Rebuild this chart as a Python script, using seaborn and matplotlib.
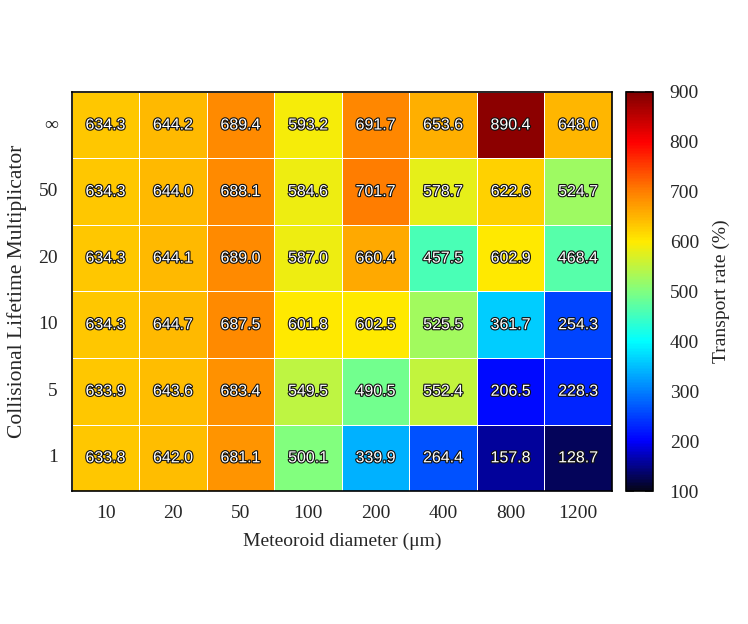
import matplotlib
matplotlib.use("Agg")
import matplotlib.pyplot as plt
import matplotlib.patheffects as pe
from matplotlib.colors import LinearSegmentedColormap
import pandas as pd
import seaborn as sns

# meteoroid diameters (columns) and lifetime multipliers (rows, top to bottom)
diameters = ["10", "20", "50", "100", "200", "400", "800", "1200"]
multipliers = ["\u221e", "50", "20", "10", "5", "1"]

row_inf = [634.3, 644.2, 689.4, 593.2, 691.7, 653.6, 890.4, 648.0]
row_50 = [634.3, 644.0, 688.1, 584.6, 701.7, 578.7, 622.6, 524.7]
row_20 = [634.3, 644.1, 689.0, 587.0, 660.4, 457.5, 602.9, 468.4]
row_10 = [634.3, 644.7, 687.5, 601.8, 602.5, 525.5, 361.7, 254.3]
row_5 = [633.9, 643.6, 683.4, 549.5, 490.5, 552.4, 206.5, 228.3]
row_1 = [633.8, 642.0, 681.1, 500.1, 339.9, 264.4, 157.8, 128.7]

data = pd.DataFrame([row_inf, row_50, row_20, row_10, row_5, row_1],
                    index=multipliers, columns=diameters)

# gnuplot-like jet palette running from near-black to dark red
cmap = LinearSegmentedColormap.from_list("transport", [
    (0.00, (0.02, 0.02, 0.10)),
    (0.125, (0.0, 0.0, 1.0)),
    (0.25, (0.0, 0.5, 1.0)),
    (0.375, (0.0, 1.0, 1.0)),
    (0.50, (0.5, 1.0, 0.5)),
    (0.625, (1.0, 0.92, 0.0)),
    (0.75, (1.0, 0.5, 0.0)),
    (0.875, (1.0, 0.0, 0.0)),
    (1.00, (0.5, 0.0, 0.0)),
])

sns.set_theme(style="white")
serif = ["Liberation Serif", "DejaVu Serif"]

fig = plt.figure(figsize=(7.48, 6.24), dpi=100)
ax = fig.add_axes([0.096, 0.213, 0.722, 0.64])
cax = fig.add_axes([0.837, 0.213, 0.036, 0.64])

sns.heatmap(data, ax=ax, cbar_ax=cax, cmap=cmap, vmin=100, vmax=900,
            annot=True, fmt=".1f", linewidths=0.5, linecolor="white",
            annot_kws={"fontsize": 11.5, "color": "white",
                       "family": ["Liberation Sans", "DejaVu Sans"]})

for t in ax.texts:
    t.set_path_effects([pe.withStroke(linewidth=1.6, foreground="#111111")])

for side in ax.spines.values():
    side.set_visible(True)
    side.set_color("black")
    side.set_linewidth(1.2)

ax.tick_params(length=0, pad=10)
ax.set_xticklabels(diameters, fontsize=14, family=serif, rotation=0)
ax.set_yticklabels(multipliers, fontsize=14, family=serif, rotation=0)
ax.set_xlabel("Meteoroid diameter (\u03bcm)", fontsize=14, family=serif, labelpad=8)
ax.set_ylabel("Collisional Lifetime Multiplicator", fontsize=15.5, family=serif, labelpad=8)

cbar = ax.collections[0].colorbar
cbar.set_ticks(range(100, 1000, 100))
cbar.ax.tick_params(direction="in", left=True, right=True, length=6,
                    color="#333333", labelsize=14, pad=12)
for lab in cbar.ax.get_yticklabels():
    lab.set_family(serif)
cbar.outline.set_visible(True)
cbar.outline.set_edgecolor("black")
cbar.outline.set_linewidth(1.2)
cbar.set_label("Transport rate (%)", fontsize=14, family=serif, labelpad=10)

fig.savefig("out.png", dpi=100)
